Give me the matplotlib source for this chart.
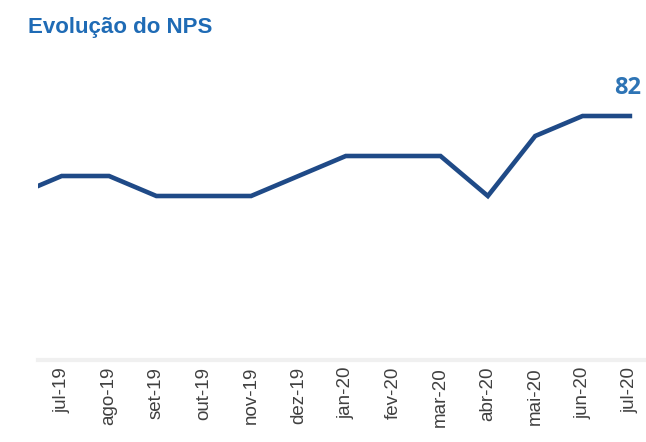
import matplotlib.pyplot as plt

# meses (jun-19 fica fora da área visível, só dá o início da linha)
meses = ['jun-19', 'jul-19', 'ago-19', 'set-19', 'out-19', 'nov-19', 'dez-19',
         'jan-20', 'fev-20', 'mar-20', 'abr-20', 'mai-20', 'jun-20', 'jul-20']
nps = [78, 79, 79, 78, 78, 78, 79, 80, 80, 80, 78, 81, 82, 82]

x = list(range(-1, len(meses) - 1))

plt.rcParams['font.family'] = ['Liberation Sans', 'DejaVu Sans']

fig = plt.figure(figsize=(6.46, 4.42), dpi=100)
ax = fig.add_axes([38 / 646, 1 - 360 / 442, 1 - 38 / 646, 300 / 442])

ax.plot(x, nps, color='#1F4A87', lw=3.3, solid_joinstyle='miter')
ax.set_xlim(-0.5, 12.34)
ax.set_ylim(69.8, 84.8)

# rótulo apenas no último ponto
ax.text(x[-1] - 0.05, nps[-1] + 1.4, str(nps[-1]), color='#2E74B5',
        fontsize=17, fontweight='bold', ha='center', va='center',
        family=['Open Sans', 'DejaVu Sans'])

ax.set_xticks(x[1:])
ax.set_xticklabels(meses[1:], rotation=90, fontsize=13.5, color='#404040')
ax.set_yticks([])
ax.tick_params(axis='x', length=0, pad=5)
for s in ['top', 'right', 'left']:
    ax.spines[s].set_visible(False)
ax.spines['bottom'].set_color('#f0f0f0')
ax.spines['bottom'].set_linewidth(3)

fig.text(28 / 646, 1 - 28 / 442, 'Evolução do NPS', color='#1F6BB5',
         fontsize=16, fontweight='bold', ha='left', va='center')

fig.savefig('out.png', dpi=100)
